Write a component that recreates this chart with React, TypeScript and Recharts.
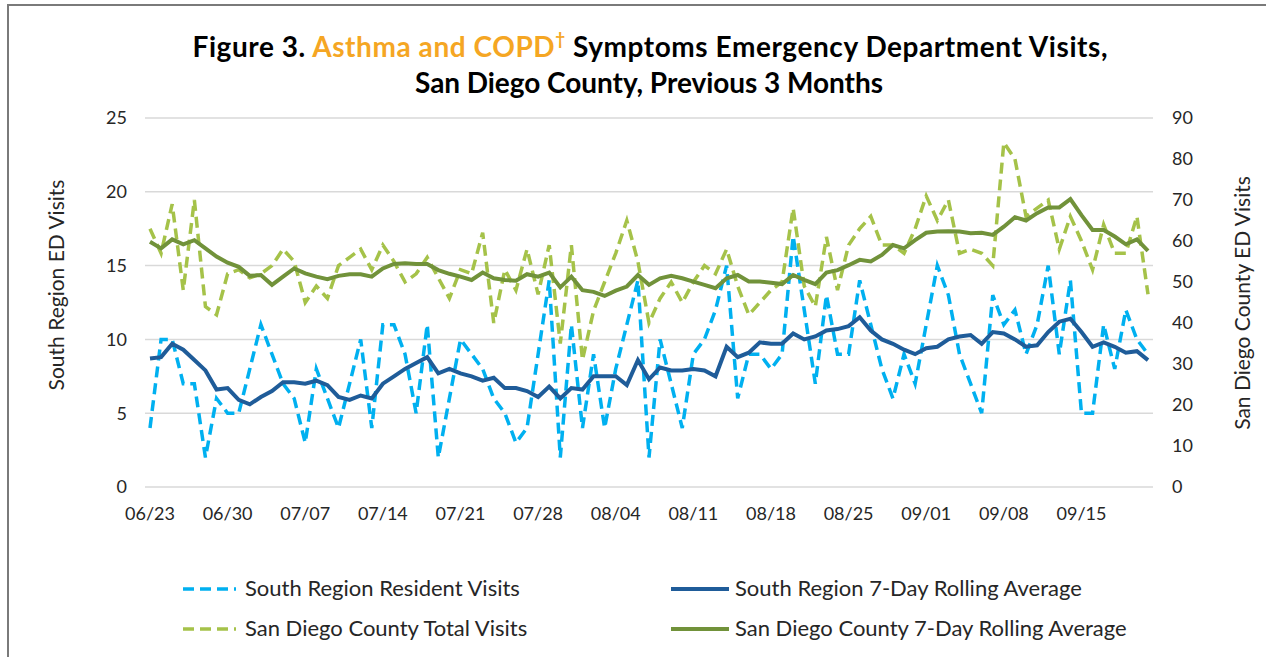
import React from 'react';
import { LineChart, Line, XAxis, YAxis, CartesianGrid } from 'recharts';

const dates = [
  '06/23','06/24','06/25','06/26','06/27','06/28','06/29','06/30',
  '07/01','07/02','07/03','07/04','07/05','07/06','07/07','07/08','07/09','07/10','07/11','07/12','07/13','07/14','07/15','07/16','07/17','07/18','07/19','07/20','07/21','07/22','07/23','07/24','07/25','07/26','07/27','07/28','07/29','07/30','07/31',
  '08/01','08/02','08/03','08/04','08/05','08/06','08/07','08/08','08/09','08/10','08/11','08/12','08/13','08/14','08/15','08/16','08/17','08/18','08/19','08/20','08/21','08/22','08/23','08/24','08/25','08/26','08/27','08/28','08/29','08/30','08/31',
  '09/01','09/02','09/03','09/04','09/05','09/06','09/07','09/08','09/09','09/10','09/11','09/12','09/13','09/14','09/15','09/16','09/17','09/18','09/19','09/20','09/21'
];

const southVisits = [
  4,10,10,7,7,2,6,5,5,8,11,9,7,6,3,8,6,4,7,10,4,11,11,9,5,11,2,6,10,9,
  8,6,5,3,4,9,14,2,11,4,9,4,8,11,14,2,10,7,4,9,10,12,15,6,9,9,8,9,17,12,
  7,13,9,9,14,11,8,6,9,7,11,15,13,9,7,5,13,11,12,9,11,15,9,14,5,5,11,8,12,10,9
];

const southAvg = [
  8.7,8.8,9.7,9.3,8.6,7.9,6.6,6.7,5.9,5.6,6.1,6.5,7.1,7.1,7.0,7.2,6.9,6.1,5.9,6.2,
  6.0,7.0,7.5,8.0,8.4,8.8,7.7,8.0,7.7,7.5,7.2,7.4,6.7,6.7,6.5,6.1,6.8,6.0,6.7,6.6,
  7.5,7.5,7.5,6.9,8.6,7.3,8.1,7.9,7.9,8.0,7.9,7.5,9.5,8.8,9.1,9.8,9.7,9.7,10.4,10.0,
  10.2,10.6,10.7,10.9,11.5,10.6,10.0,9.7,9.3,9.0,9.4,9.5,10.0,10.2,10.3,9.7,10.5,10.4,10.0,9.5,
  9.6,10.5,11.2,11.4,10.5,9.5,9.8,9.5,9.1,9.2,8.6
];

const countyVisits = [
  63,57,69,48,70,44,42,52,53,51,52,54,58,55,45,49,46,54,56,58,
  53,59,55,50,52,56,51,46,53,52,62,40,53,48,58,47,59,35,59,31,
  43,50,57,65,55,40,46,50,45,50,54,52,58,49,42,45,48,50,68,49,
  44,61,48,59,63,66,59,59,57,63,71,65,70,57,58,57,54,84,80,66,
  68,70,58,66,60,53,64,57,57,66,47
];

const countyAvg = [
  59.8,58.2,60.4,59.2,60.2,58.2,56.2,54.7,53.7,51.5,51.7,49.3,51.3,53.3,52.1,51.3,50.7,51.5,51.9,51.9,
  51.3,53.3,54.4,54.6,54.4,54.4,52.9,52.0,51.3,50.5,52.3,50.9,50.5,50.3,51.9,51.3,52.3,48.7,51.3,48.0,
  47.6,46.6,47.9,48.9,51.7,49.3,50.9,51.5,50.9,50.1,49.3,48.5,50.9,51.7,50.1,50.1,49.8,49.5,51.7,50.5,
  49.5,52.3,52.9,54.1,55.4,55.0,56.6,59.0,58.2,60.2,62.0,62.3,62.4,62.3,61.9,62.0,61.5,63.5,65.8,65.0,
  66.8,68.2,68.2,70.2,66.3,62.7,62.7,61.1,59.2,60.4,57.6
];

const leftTicks = [0, 5, 10, 15, 20, 25];
const rightTicks = [0, 10, 20, 30, 40, 50, 60, 70, 80, 90];

const seriesNames = [
  'South Region Resident Visits',
  'South Region 7-Day Rolling Average',
  'San Diego County Total Visits',
  'San Diego County 7-Day Rolling Average',
];

const COLORS = {
  southVisits: '#00B0F0',
  southAvg: '#1F5C99',
  countyVisits: '#A5C249',
  countyAvg: '#71923A',
};

const data = dates.map((d, i) => ({
  date: d,
  southVisits: southVisits[i],
  southAvg: southAvg[i],
  countyVisits: countyVisits[i],
  countyAvg: countyAvg[i],
}));

const FONT = 'Lato, "Open Sans", sans-serif';
const TEXT = '#262626';

export default function App() {
  return (
    <div style={{ position: 'fixed', left: 0, top: 0, width: 1266, height: 657, background: '#fff', fontFamily: FONT, overflow: 'hidden' }}>
      <div style={{ position: 'absolute', left: 7, top: 4, width: 1400, height: 800, borderTop: '2px solid #7a7a7a', borderLeft: '2px solid #7a7a7a' }} />
      <LineChart
        width={1266}
        height={657}
        data={data}
        margin={{ top: 118, right: 33, bottom: 140, left: 45 }}
        style={{ position: 'absolute', left: 0, top: 0 }}
      >
        <CartesianGrid yAxisId="left" vertical={false} stroke="#d9d9d9" strokeWidth={1.5} />
        <XAxis
          dataKey="date"
          interval={6}
          padding={{ left: 5, right: 5 }}
          tickLine={false}
          axisLine={false}
          tickSize={0}
          tickMargin={20}
          height={30}
          tick={{ fontSize: 18, fill: TEXT, fontFamily: FONT }}
        />
        <YAxis
          yAxisId="left"
          orientation="left"
          width={100}
          domain={[0, 25]}
          ticks={leftTicks}
          tickLine={false}
          axisLine={false}
          tickSize={0}
          tickMargin={18}
          tick={{ fontSize: 18, fill: TEXT, fontFamily: FONT }}
        />
        <YAxis
          yAxisId="right"
          orientation="right"
          width={80}
          domain={[0, 90]}
          ticks={rightTicks}
          tickLine={false}
          axisLine={false}
          tickSize={0}
          tickMargin={19}
          tick={{ fontSize: 18, fill: TEXT, fontFamily: FONT, textAnchor: 'start' }}
        />
        <Line yAxisId="right" type="linear" dataKey="countyVisits" name={seriesNames[2]} stroke={COLORS.countyVisits} strokeWidth={3.5} strokeDasharray="11 6" dot={false} isAnimationActive={false} />
        <Line yAxisId="left" type="linear" dataKey="southVisits" name={seriesNames[0]} stroke={COLORS.southVisits} strokeWidth={3.5} strokeDasharray="11 6" dot={false} isAnimationActive={false} />
        <Line yAxisId="right" type="linear" dataKey="countyAvg" name={seriesNames[3]} stroke={COLORS.countyAvg} strokeWidth={4} dot={false} isAnimationActive={false} />
        <Line yAxisId="left" type="linear" dataKey="southAvg" name={seriesNames[1]} stroke={COLORS.southAvg} strokeWidth={4} dot={false} isAnimationActive={false} />
      </LineChart>

      <svg width={1266} height={657} style={{ position: 'absolute', left: 0, top: 0, pointerEvents: 'none' }}>
        <text x={650} y={57} textAnchor="middle" fontFamily={FONT} fontWeight={700} fontSize={28} fill="#000" textLength={915} lengthAdjust="spacing">
          <tspan>Figure 3. </tspan>
          <tspan fill="#F5A623">Asthma and COPD</tspan>
          <tspan fill="#F5A623" fontSize={17} dy={-12}>†</tspan>
          <tspan dy={12}> Symptoms Emergency Department Visits,</tspan>
        </text>
        <text x={649} y={93} textAnchor="middle" fontFamily={FONT} fontWeight={700} fontSize={28} fill="#000" textLength={468} lengthAdjust="spacing">
          San Diego County, Previous 3 Months
        </text>
        <text transform="translate(64,285) rotate(-90)" textAnchor="middle" fontFamily={FONT} fontSize={21} fill={TEXT}>
          South Region ED Visits
        </text>
        <text transform="translate(1250,303) rotate(-90)" textAnchor="middle" fontFamily={FONT} fontSize={21} fill={TEXT}>
          San Diego County ED Visits
        </text>

        <line x1={183} y1={589} x2={236} y2={589} stroke={COLORS.southVisits} strokeWidth={3.5} strokeDasharray="11 6" />
        <text x={245} y={596} fontFamily={FONT} fontSize={22} fill={TEXT}>{seriesNames[0]}</text>
        <line x1={671} y1={589} x2={729} y2={589} stroke={COLORS.southAvg} strokeWidth={4} />
        <text x={735} y={596} fontFamily={FONT} fontSize={22} fill={TEXT}>{seriesNames[1]}</text>
        <line x1={183} y1={629} x2={236} y2={629} stroke={COLORS.countyVisits} strokeWidth={3.5} strokeDasharray="11 6" />
        <text x={245} y={636} fontFamily={FONT} fontSize={22} fill={TEXT}>{seriesNames[2]}</text>
        <line x1={671} y1={629} x2={729} y2={629} stroke={COLORS.countyAvg} strokeWidth={4} />
        <text x={735} y={636} fontFamily={FONT} fontSize={22} fill={TEXT}>{seriesNames[3]}</text>
      </svg>
    </div>
  );
}
